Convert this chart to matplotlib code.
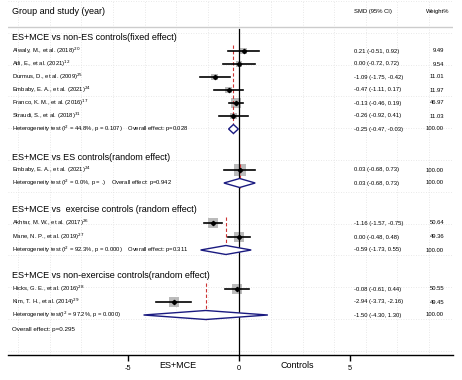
import matplotlib
matplotlib.use("Agg")
import matplotlib.pyplot as plt
from matplotlib.patches import Polygon, Rectangle
import numpy as np

plt.rcParams['font.family'] = ['Liberation Sans', 'DejaVu Sans']

# --- datos ---
grupos = [
    "ES+MCE vs non-ES controls(fixed effect)",
    "ES+MCE vs ES controls(random effect)",
    "ES+MCE vs  exercise controls (random effect)",
    "ES+MCE vs non-exercise controls(random effect)",
]
estudios = [
    ["Alwaly, M., et al. (2018)$^{20}$", "Atli, E., et al. (2021)$^{12}$",
     "Durmus, D., et al. (2009)$^{25}$", "Embaby, E. A., et al. (2021)$^{24}$",
     "Franco, K. M., et al. (2016)$^{17}$", "Straudi, S., et al. (2018)$^{31}$"],
    ["Embaby, E. A., et al. (2021)$^{24}$"],
    ["Akhtar, M. W., et al. (2017)$^{26}$", "Mane, N. P., et al. (2019)$^{27}$"],
    ["Hicks, G. E., et al. (2016)$^{28}$", "Kim, T. H., et al. (2014)$^{29}$"],
]
smd = [[0.21, 0.00, -1.09, -0.47, -0.13, -0.26], [0.03], [-1.16, 0.00], [-0.08, -2.94]]
ci_lo = [[-0.51, -0.72, -1.75, -1.11, -0.46, -0.92], [-0.68], [-1.57, -0.48], [-0.61, -3.73]]
ci_hi = [[0.92, 0.72, -0.42, 0.17, 0.19, 0.41], [0.73], [-0.75, 0.48], [0.44, -2.16]]
pesos = [[9.49, 9.54, 11.01, 11.97, 46.97, 11.03], [100.00], [50.64, 49.36], [50.55, 49.45]]
pool_smd = [-0.25, 0.03, -0.59, -1.50]
pool_lo = [-0.47, -0.68, -1.73, -4.30]
pool_hi = [-0.03, 0.73, 0.55, 1.30]
heterog = [
    "Heterogeneity test (I$^2$ = 44.8%, p = 0.107)    Overall effect: p=0.028",
    "Heterogeneity test (I$^2$ = 0.0%, p = .)    Overall effect: p=0.942",
    "Heterogeneity test (I$^2$ = 92.3%, p = 0.000)    Overall effect: p=0.311",
    "Heterogeneity test(I$^2$ = 97.2%, p = 0.000)",
]
efecto_total = "Overall effect: p=0.295"
xticks = [-5, 0, 5]

# --- disposicion (en pixeles) ---
W, H = 462, 380
x0_px, esc = 239, 22.2          # pixel del 0 y pixeles por unidad
y_grupo = [38, 157, 210, 276]
y_filas = [[51, 64, 77, 90, 103, 116], [170], [223, 237], [289, 302]]
y_het = [129, 183, 250, 315]
navy = '#1a1a80'
fs_chico = 4.2

def px(xp):
    return (xp - x0_px) / esc

fig = plt.figure(figsize=(W / 100, H / 100), dpi=100)
ax = fig.add_axes([8 / W, (H - 355) / H, (453 - 8) / W, 355 / H])
ax.set_xlim(px(8), px(453))
ax.set_ylim(355, 0)
for s in ['top', 'left', 'right']:
    ax.spines[s].set_visible(False)
ax.spines['bottom'].set_linewidth(1.0)
ax.set_yticks([])
ax.set_xticks(xticks)
ax.set_xticklabels([str(t) for t in xticks], fontsize=5.3)
ax.tick_params(axis='x', length=4, width=1, pad=3)

# rejilla punteada de fondo
for gx in np.arange(271 - 31.6 * 8, 453, 31.6):
    ax.axvline(px(gx), color='#e2e2e2', lw=0.6, ls=(0, (1, 2)), zorder=0)
for gy in np.arange(1, 355, 31.8):
    ax.axhline(gy, color='#e2e2e2', lw=0.6, ls=(0, (1, 2)), zorder=0)

# encabezado
ax.text(px(12), 12, "Group and study (year)", fontsize=6.5, va='center')
ax.text(px(354), 12, "SMD (95% CI)", fontsize=fs_chico, va='center')
ax.text(px(449), 12, "Weight%", fontsize=fs_chico, va='center', ha='right')
ax.plot([px(8), px(452)], [27, 27], color='#cccccc', lw=1)

# linea de no efecto
ax.plot([0, 0], [29, 355], color='black', lw=0.9, zorder=3)

for g in range(len(grupos)):
    ax.text(px(12), y_grupo[g], grupos[g], fontsize=6.5, va='center')
    for i, nombre in enumerate(estudios[g]):
        y = y_filas[g][i]
        ax.text(px(12), y, nombre, fontsize=fs_chico, va='center')
        ax.text(px(354), y, f"{smd[g][i]:.2f} ({ci_lo[g][i]:.2f}, {ci_hi[g][i]:.2f})",
                fontsize=fs_chico, va='center')
        ax.text(px(444), y, f"{pesos[g][i]:.2f}", fontsize=fs_chico, va='center', ha='right')
        # cuadro de peso
        lado = 4 + 8 * np.sqrt(pesos[g][i] / 100)
        ax.add_patch(Rectangle((smd[g][i] - lado / 2 / esc, y - lado / 2), lado / esc, lado,
                               facecolor='#bbbbbb', edgecolor='none', zorder=2))
        ax.plot([ci_lo[g][i], ci_hi[g][i]], [y, y], color='black', lw=1.2, zorder=4)
        ax.plot(smd[g][i], y, 'D', color='black', ms=2.2, zorder=5)
    # diamante combinado
    yh = y_het[g]
    ax.add_patch(Polygon([[pool_lo[g], yh], [pool_smd[g], yh - 4.5], [pool_hi[g], yh],
                          [pool_smd[g], yh + 4.5]], closed=True, facecolor='white',
                         edgecolor=navy, lw=1.0, zorder=4))
    ax.plot([pool_smd[g], pool_smd[g]], [y_grupo[g] + 7, yh + 5], color='#cc3333',
            lw=0.8, ls=(0, (3, 2)), zorder=3)
    ax.text(px(12), yh, heterog[g], fontsize=fs_chico, va='center')
    ax.text(px(354), yh, f"{pool_smd[g]:.2f} ({pool_lo[g]:.2f}, {pool_hi[g]:.2f})",
            fontsize=fs_chico, va='center')
    ax.text(px(444), yh, "100.00", fontsize=fs_chico, va='center', ha='right')

ax.text(px(12), 329, efecto_total, fontsize=4.5, va='center')

# etiquetas del eje
fig.text(178 / W, 1 - 366 / H, "ES+MCE", fontsize=6.5, ha='center', va='center')
fig.text(297 / W, 1 - 366 / H, "Controls", fontsize=6.5, ha='center', va='center')

fig.savefig("out.png", dpi=100)
